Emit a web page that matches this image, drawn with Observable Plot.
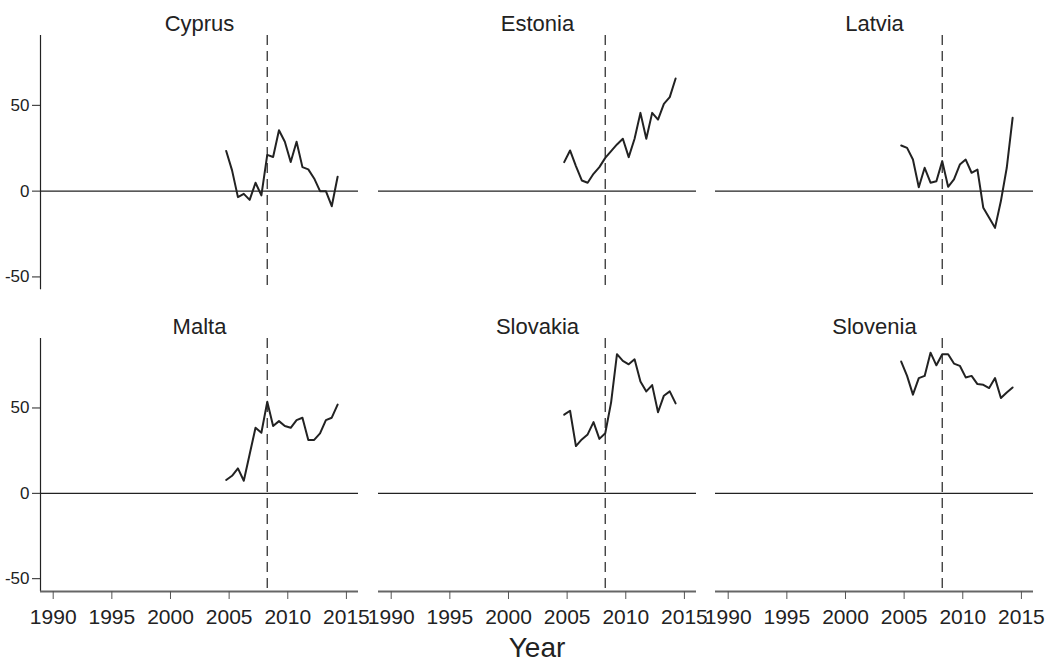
<!DOCTYPE html>
<html>
<head>
<meta charset="utf-8">
<script src="https://cdn.jsdelivr.net/npm/d3@7"></script>
<script src="https://cdn.jsdelivr.net/npm/@observablehq/plot@0.6"></script>
<style>
  html, body { margin: 0; padding: 0; background: #fff; }
  #wrap { position: relative; width: 1050px; height: 663px; font-family: "Liberation Sans", Arial, sans-serif; color: #222; }
  #wrap svg { position: absolute; overflow: visible; }
  #xlabel { position: absolute; top: 631px; left: 537px; transform: translateX(-50%); font-size: 28px; line-height: 34px; }
</style>
</head>
<body>
<div id="wrap"><div id="xlabel">Year</div></div>
<script>
const periods = [2004.75, 2005.25, 2005.75, 2006.25, 2006.75, 2007.25, 2007.75, 2008.25, 2008.75, 2009.25,
                 2009.75, 2010.25, 2010.75, 2011.25, 2011.75, 2012.25, 2012.75, 2013.25, 2013.75, 2014.25];
const countries = ["Cyprus", "Estonia", "Latvia", "Malta", "Slovakia", "Slovenia"];
const cyprus   = [23.4, 12.1, -3.5, -1.6, -5.1, 4.9, -2.5, 21.1, 19.9, 35.5, 28.8, 17.0, 28.8, 14.0, 12.7, 7.4, 0.0, 0.0, -8.8, 8.4];
const estonia  = [16.9, 23.7, 14.6, 6.2, 4.9, 10.1, 14.0, 19.4, 23.3, 27.2, 30.5, 19.8, 30.5, 45.6, 30.5, 45.6, 41.7, 50.9, 54.8, 65.6];
const latvia   = [26.6, 25.2, 18.4, 2.3, 13.6, 4.9, 5.8, 17.5, 2.5, 6.8, 15.5, 18.4, 10.7, 12.6, -9.7, -15.5, -21.4, -5.8, 13.6, 42.7];
const malta    = [7.8, 10.3, 14.6, 7.4, 22.9, 38.4, 35.5, 53.6, 39.4, 42.3, 39.4, 38.4, 42.9, 44.3, 31.3, 31.3, 35.1, 42.9, 44.3, 52.0];
const slovakia = [46.1, 48.4, 27.7, 31.6, 34.5, 41.7, 31.9, 35.2, 53.3, 81.5, 77.6, 75.6, 78.5, 65.5, 59.7, 63.4, 47.5, 57.2, 59.7, 52.7];
const slovenia = [77.2, 68.8, 57.8, 67.5, 68.8, 82.4, 75.0, 81.5, 81.5, 76.0, 74.7, 67.9, 68.8, 64.0, 63.6, 61.7, 67.5, 55.8, 59.1, 62.0];
const series = [cyprus, estonia, latvia, malta, slovakia, slovenia];
const xTicks = [1990, 1995, 2000, 2005, 2010, 2015];
const yTicks = [-50, 0, 50];
const crisis = 2008.25;

const xDomain = [1988.917, 2016.03];
const yDomain = [-57.5, 90.7];
const wrap = document.getElementById("wrap");

countries.forEach((name, i) => {
  const col = i % 3, row = Math.floor(i / 3);
  const data = periods.map((p, k) => ({period: p, value: series[i][k]}));
  const bottom = row === 1;
  const marks = [
    Plot.ruleY([0], {stroke: "#222", strokeWidth: 1.2}),
    Plot.ruleX([crisis], {stroke: "#333", strokeWidth: 1.3, strokeDasharray: "10,6"}),
    Plot.line(data, {x: "period", y: "value", stroke: "#222", strokeWidth: 2}),
    Plot.text([name], {frameAnchor: "top", dy: -20, fontSize: 22, fill: "#222"})
  ];
  if (col === 0) {
    marks.push(Plot.ruleX([xDomain[0]], {stroke: "#222", strokeWidth: 1.2}));
    marks.push(Plot.axisY(yTicks, {anchor: "left", label: null, tickSize: 8, tickPadding: 3, fontSize: 17, stroke: "#222", fill: "#222", tickFormat: d => String(d)}));
  }
  if (bottom) {
    marks.push(Plot.ruleY([yDomain[0]], {stroke: "#666", strokeWidth: 2}));
    marks.push(Plot.axisX(xTicks, {anchor: "bottom", label: null, tickSize: 8, tickPadding: 10, fontSize: 21, stroke: "#555", fill: "#222", tickFormat: d => String(d)}));
  }
  const chart = Plot.plot({
    width: 370,
    height: bottom ? 35 + 253 + 45 : 35 + 254.3 + 5,
    marginLeft: 40, marginRight: 12, marginTop: 35, marginBottom: bottom ? 45 : 5,
    x: {domain: xDomain, axis: null},
    y: {domain: yDomain, axis: null},
    style: {fontFamily: "Liberation Sans, Arial, sans-serif", background: "transparent", overflow: "visible"},
    marks
  });
  chart.style.left = (337.5 * col) + "px";
  chart.style.top = (bottom ? 302.7 : 0) + "px";
  wrap.appendChild(chart);
});
</script>
</body>
</html>
